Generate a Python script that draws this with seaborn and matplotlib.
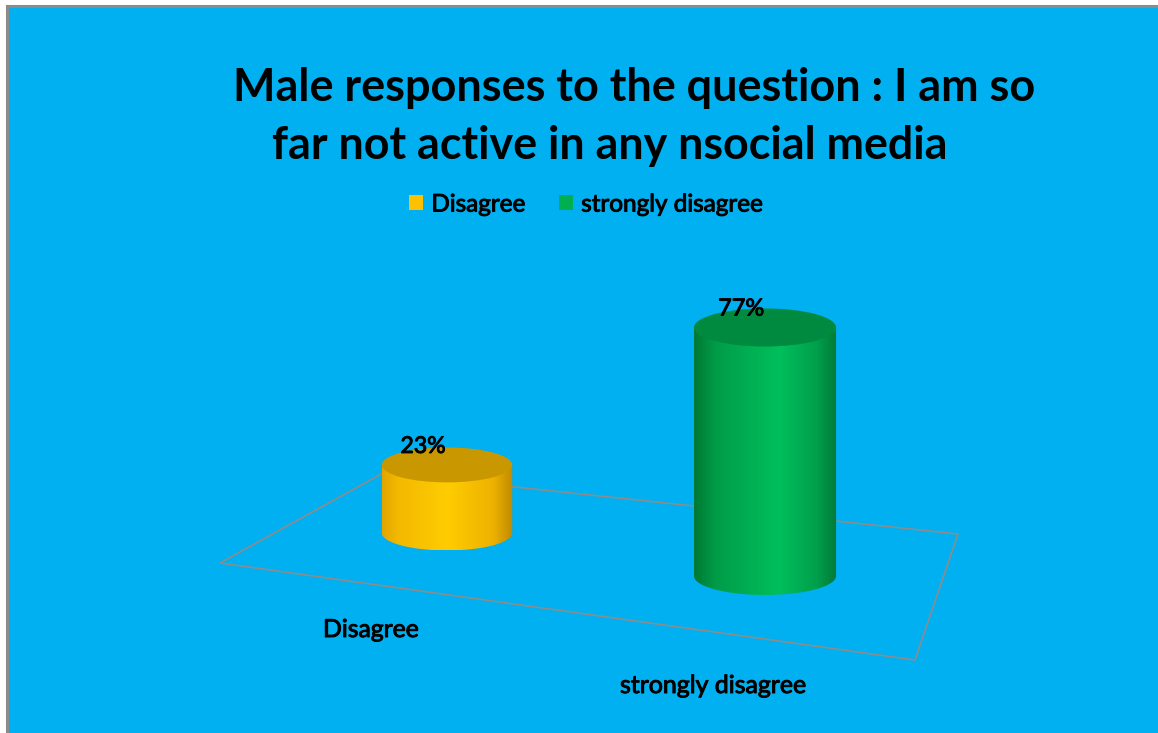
import numpy as np
import pandas as pd
import matplotlib
matplotlib.use("Agg")
import matplotlib.pyplot as plt
import matplotlib.patheffects as pe
import seaborn as sns
from matplotlib.patches import Ellipse, PathPatch, Polygon, Rectangle, Patch
from matplotlib.lines import Line2D
from matplotlib.path import Path
from matplotlib.colors import LinearSegmentedColormap
from matplotlib import font_manager

# ---- data -------------------------------------------------------------
categories = ["Disagree", "strongly disagree"]
shares = [23, 77]
value_labels = ["23%", "77%"]
bar_colors = ["#FFC000", "#00B050"]
title_lines = ["Male responses to the question : I am so",
               "far not active in any nsocial media"]

# ---- canvas -----------------------------------------------------------
W, H, DPI = 1158, 733, 100
BG = "#00B0F0"
FRAME = "#8C8C8C"

sns.set_theme(style="white")
available = {f.name for f in font_manager.fontManager.ttflist}
family = next((f for f in ["Liberation Sans Narrow", "Lato", "Open Sans"]
               if f in available), "DejaVu Sans")
plt.rcParams["font.family"] = [family, "DejaVu Sans"]

# a thin outline gives the regular-weight labels a slightly heavier stroke
HEAVY = [pe.withStroke(linewidth=0.7, foreground="black")]

fig = plt.figure(figsize=(W / DPI, H / DPI), dpi=DPI, facecolor=BG)

# white margin and grey frame line along the top and left edges only
L_PX, T_PX = 7, 6
fig.add_artist(Rectangle((0, 0), L_PX / W, 1, transform=fig.transFigure,
                         facecolor="white", edgecolor="none", zorder=-10))
fig.add_artist(Rectangle((0, 1 - T_PX / H), 1, T_PX / H, transform=fig.transFigure,
                         facecolor="white", edgecolor="none", zorder=-10))
fig.add_artist(Line2D([L_PX / W, L_PX / W], [0, 1 - T_PX / H], transform=fig.transFigure,
                      color=FRAME, lw=2.2, solid_capstyle="projecting", zorder=-9))
fig.add_artist(Line2D([L_PX / W, 1], [1 - T_PX / H, 1 - T_PX / H], transform=fig.transFigure,
                      color=FRAME, lw=2.2, solid_capstyle="projecting", zorder=-9))

ax = fig.add_axes([0, 0, 1, 1])
ax.set_facecolor("none")

df = pd.DataFrame({"category": categories, "share": shares})
sns.barplot(data=df, x="category", y="share", hue="category",
            palette=bar_colors, width=0.41, errorbar=None, legend=False, ax=ax)

# pixel layout of the pseudo-3D scene (category axis -> px, percent -> px)
X0_PX, X_SCALE = 447, 318
Y0_PX, Y_SCALE = 533, 2.96
FLOOR_DROP = -14.5      # baseline shift per category step (percent units)
DEPTH_GAIN = 0.09       # perspective enlargement per category step
ELL_B = 5.9             # semi-minor axis of cylinder caps (percent units)

side_stops = {
    "#FFC000": [(0, "#E2A500"), (0.12, "#F2B900"), (0.5, "#FFCC00"),
                (0.85, "#EDB200"), (1, "#BF8A00")],
    "#00B050": [(0, "#007934"), (0.15, "#009C48"), (0.6, "#00BF5C"),
                (0.86, "#009F4B"), (1, "#007A38")],
}
top_colors = {"#FFC000": "#C99700", "#00B050": "#008A40"}

value_texts = []
bars = sorted(ax.patches, key=lambda p: p.get_x())
for p, col, lab in zip(bars, bar_colors, value_labels):
    v = p.get_height()
    w = p.get_width()
    cx = p.get_x() + w / 2
    p.set_visible(False)

    f = 1 + DEPTH_GAIN * cx
    base = FLOOR_DROP * cx
    a = f * w / 2
    h = f * v
    b = f * ELL_B
    top = base + h

    # body outline: front half of the bottom cap plus the straight sides
    t = np.linspace(np.pi, 2 * np.pi, 80)
    pts = np.column_stack([cx + a * np.cos(t), base + b * np.sin(t)])
    pts = np.vstack([pts, [cx + a, top], [cx - a, top], pts[:1]])
    codes = [Path.MOVETO] + [Path.LINETO] * (len(pts) - 2) + [Path.CLOSEPOLY]
    body = PathPatch(Path(pts, codes), facecolor="none", edgecolor="none", zorder=2)
    ax.add_patch(body)

    cmap = LinearSegmentedColormap.from_list("side", side_stops[col])
    grad = np.linspace(0, 1, 256)[None, :]
    im = ax.imshow(grad, cmap=cmap, extent=(cx - a, cx + a, base - b, top),
                   aspect="auto", origin="lower", interpolation="bilinear", zorder=2)
    im.set_clip_path(body)

    ax.add_patch(Ellipse((cx, top), 2 * a, 2 * b, facecolor=top_colors[col],
                         edgecolor="none", zorder=3))

    value_texts.append(
        ax.annotate(lab, xy=(cx, top), xytext=(-24, 12), textcoords="offset pixels",
                    ha="center", va="baseline", fontsize=15, color="black",
                    zorder=5, path_effects=HEAVY))

ax.set_xlim(-X0_PX / X_SCALE, (W - X0_PX) / X_SCALE)
ax.set_ylim(-(H - Y0_PX) / Y_SCALE, Y0_PX / Y_SCALE)
ax.set_axis_off()

# floor of the 3D plot area
floor_px = [(220, 563), (915, 660), (958, 534), (383, 473)]
ax.add_patch(Polygon([(x / W, 1 - y / H) for x, y in floor_px], closed=True,
                     transform=ax.transAxes, facecolor="none",
                     edgecolor=FRAME, lw=1.2, zorder=1))

renderer = fig.canvas.get_renderer()


def fit_width(txt, target_px):
    for _ in range(3):
        wpx = txt.get_window_extent(renderer).width
        txt.set_fontsize(txt.get_fontsize() * target_px / wpx)
    return txt.get_fontsize()


def place(s, x_left, y_base, width, **kw):
    txt = fig.text(x_left / W, 1 - y_base / H, s, ha="left", va="baseline",
                   color="black", fontsize=20, **kw)
    fit_width(txt, width)
    return txt


# title
place(title_lines[0], 233, 101, 800, weight="bold")
place(title_lines[1], 272, 159, 675, weight="bold")

# category labels along the front of the floor
place(categories[0], 323, 637, 96, path_effects=HEAVY)
place(categories[1], 620, 693, 186, path_effects=HEAVY)

# value labels sized to their measured width
for t_, target in zip(value_texts, [45, 46]):
    fit_width(t_, target)

# legend
probe = fig.text(0, 0, categories[0], fontsize=20)
leg_fs = fit_width(probe, 94)
probe.remove()
px_per_em = leg_fs * DPI / 72
handles = [Patch(facecolor=c, edgecolor="none") for c in bar_colors]
leg = fig.legend(handles, categories, loc="center",
                 bbox_to_anchor=(586 / W, 1 - 205 / H),
                 ncol=2, frameon=False, fontsize=leg_fs,
                 handlelength=14 / px_per_em, handleheight=14 / px_per_em,
                 handletextpad=8 / px_per_em, columnspacing=34 / px_per_em,
                 borderpad=0, borderaxespad=0)
for lt in leg.get_texts():
    lt.set_color("black")
    lt.set_path_effects(HEAVY)

fig.savefig("out.png", dpi=DPI, facecolor=BG)
